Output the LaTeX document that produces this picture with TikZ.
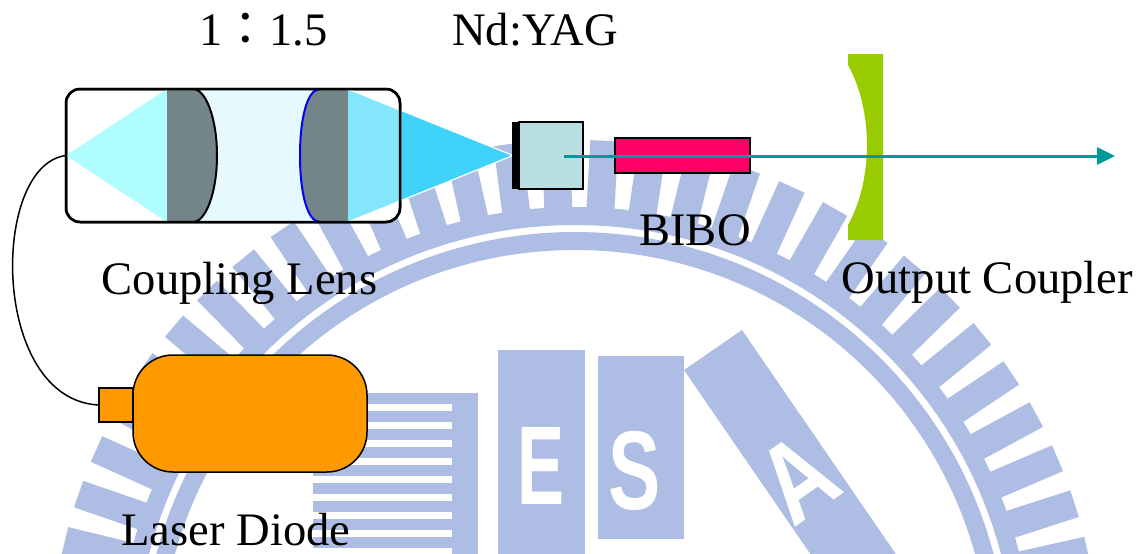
\documentclass[tikz,border=0pt]{standalone}
\usepackage{fontspec}
\setmainfont{Liberation Serif}
\newfontfamily\cjkfont{Noto Sans CJK TC}
\newfontfamily\logofont{Liberation Sans}
\usetikzlibrary{arrows.meta}
\definecolor{Beam}{HTML}{009999}
\definecolor{Pump}{HTML}{3FD3FA}
\definecolor{PumpSoft}{HTML}{84E6FD}
\definecolor{PumpIn}{HTML}{AFFDFE}
\definecolor{Glass}{HTML}{E6F9FE}
\definecolor{LensGray}{HTML}{738588}
\definecolor{YagFill}{HTML}{B9DFE2}
\definecolor{BiboFill}{HTML}{FF0066}
\definecolor{OcFill}{HTML}{99CC00}
\definecolor{DiodeFill}{HTML}{FF9900}
\definecolor{Logo}{HTML}{ADBDE3}

\begin{document}
\begin{tikzpicture}[x=0.5pt, y=-0.5pt,
  lbl/.style={font=\fontsize{23.3}{28}\selectfont, inner sep=0pt, anchor=base},
  lensbox/.style={draw=black, line width=1.25pt, rounded corners=7pt, minimum width=167pt, minimum height=66.5pt, inner sep=0pt, outer sep=0pt},
  part/.style={draw=black, line width=1pt, inner sep=0pt, outer sep=0pt},
  beam/.style={draw=Beam, line width=1.5pt, -{Triangle[length=9pt,width=8.5pt]}},
  fiber/.style={draw=black, line width=0.75pt},
  letter/.style={text=white, font=\logofont\bfseries\fontsize{56}{56}\selectfont, inner sep=0pt}
]
\useasboundingbox (0,0) rectangle (1142,553);
\fill[white] (0,0) rectangle (1142,553);

% faint seal behind the setup
\fill[Logo, even odd rule] (575,665) circle[radius=458] circle[radius=440]
  circle[radius=433] circle[radius=415];
\foreach \k in {-18,...,16}{
  \pgfmathsetmacro\ang{12.7+5.3*\k}
  \fill[Logo, rotate around={\ang:(575,665)}] (561,209) rectangle (589,140);
}
\fill[Logo] (364,393) rectangle (478,404);
\fill[Logo] (452,393) rectangle (478,560);
\foreach \k in {0,...,7}
  \fill[Logo] (313,{411+18*\k}) rectangle (452,{422+18*\k});
\fill[Logo] (498,350) rectangle (585,560);
\fill[Logo] (598,356) rectangle (684,539);
\fill[Logo] (684,370) -- (742,330) -- (913,579) -- (855,619) -- cycle;
\node[letter, xscale=0.63] (e) at (541,466) {E};
\node[letter, xscale=0.7] (s) at (635,471) {S};
\node[letter, rotate=35, xscale=0.8] (a) at (798,478) {A};

% coupling optics
\node[lensbox, fill=white] (lens) at (233,155.5) {};
\fill[PumpIn] (lens.west) -- (167,89) -- (167,222) -- cycle;
\fill[Glass] (193,89) rectangle (320,222);
\fill[LensGray] (167,89) -- (193,89) .. controls (206,89) and (217,119) .. (217,155.5)
  .. controls (217,192) and (206,222) .. (193,222) -- (167,222) -- cycle;
\draw[line width=1pt] (193,89) .. controls (206,89) and (217,119) .. (217,155.5)
  .. controls (217,192) and (206,222) .. (193,222);
\fill[LensGray] (348,89) -- (320,89) .. controls (307,89) and (300,119) .. (300,155.5)
  .. controls (300,192) and (307,222) .. (320,222) -- (348,222) -- cycle;
\draw[blue, line width=1pt] (320,89) .. controls (307,89) and (300,119) .. (300,155.5)
  .. controls (300,192) and (307,222) .. (320,222);
\fill[PumpSoft] (348,89) -- (400,109.8) -- (400,201.2) -- (348,222) -- cycle;
\fill[Pump] (400,109.8) -- (513,155.5) -- (400,201.2) -- cycle;
\draw[white, line width=0.6pt] (348,89) -- (513,155.5) -- (348,222);
\draw[line width=1.25pt, rounded corners=7pt] (lens.south west) rectangle (lens.north east);

% gain crystal, doubler and output mirror
\fill[black] (512,122) rectangle (520,189);
\node[part, fill=YagFill, minimum width=32pt, minimum height=33.5pt] (yag) at (551,155.5) {};
\node[part, fill=BiboFill, minimum width=67.5pt, minimum height=17.5pt] (bibo) at (682.5,155.5) {};
\fill[OcFill] (848,54) -- (883,54) -- (883,240) -- (848,240) -- (848,225)
  .. controls (861,202) and (867,172) .. (867,145)
  .. controls (867,118) and (861,88) .. (848,65) -- cycle;
\coordinate (beamstart) at (564,156);
\coordinate (beamend) at (1115,156);
\draw[beam] (beamstart) -- (beamend);

% pump diode
\node[part, line width=0.75pt, fill=DiodeFill, minimum width=17pt, minimum height=17pt] (ldport) at (116,405) {};
\node[part, line width=0.75pt, fill=DiodeFill, rounded corners=20pt, minimum width=117pt, minimum height=58.5pt] (ldbody) at (250,413.5) {};
\draw[fiber] (lens.west) .. controls (-10,165) and (-10,400) .. (ldport.west);

\node[lbl] (ratio) at (263.5,45) {1{\cjkfont ：}1.5};
\node[lbl] (yaglbl) at (535,45) {Nd:YAG};
\node[lbl] (lenslbl) at (239.5,294) {Coupling Lens};
\node[lbl] (bibolbl) at (695,245) {BIBO};
\node[lbl] (oclbl) at (987.5,293) {Output Coupler};
\node[lbl] (ldlbl) at (236,545) {Laser Diode};
\end{tikzpicture}
\end{document}
